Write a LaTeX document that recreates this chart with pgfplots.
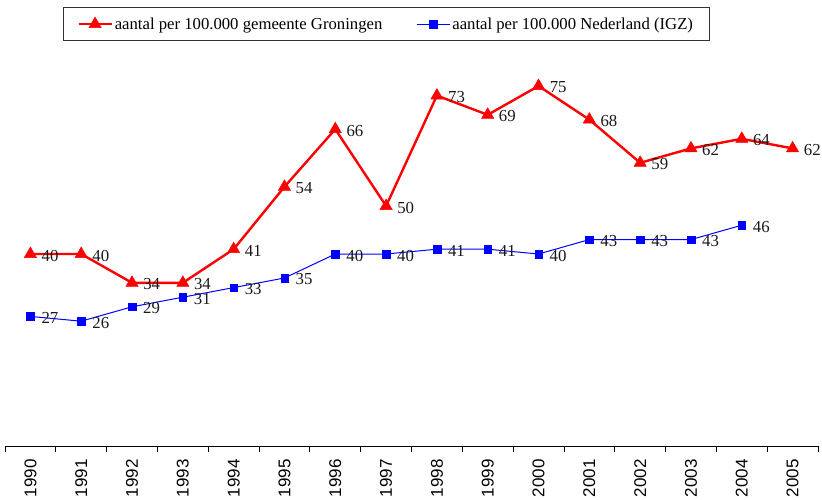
\documentclass[border=0pt]{standalone}
\usepackage{fontspec}
\setmainfont{Liberation Serif}
\newfontfamily\arial{Liberation Sans}
\usepackage{pgfplots}
\pgfplotsset{compat=1.18}
\begin{document}
\begin{tikzpicture}
\begin{axis}[
  scale only axis, width=813pt, height=432pt,
  xmin=-0.5, xmax=15.5, ymin=0, ymax=90,
  axis x line*=bottom, axis y line=none,
  clip=false,
  /pgf/number format/assume math mode=true,
  xtick={0,...,15},
  xticklabels={1990,1991,1992,1993,1994,1995,1996,1997,1998,1999,2000,2001,2002,2003,2004,2005},
  major tick length=0pt,
  xticklabel style={yshift=-13pt, rotate=90, anchor=east, font=\arial\fontsize{17}{17}\selectfont, inner sep=0pt},
  extra x ticks={-0.5,0.5,...,15.5},
  extra x tick labels={},
  extra x tick style={major tick length=6pt, tick align=outside, tick style={black, line width=0.8pt}},
  x axis line style={black, line width=0.8pt},
  nodes near coords,
  every node near coord/.append style={anchor=west, xshift=10pt, yshift=-1.5pt, font=\fontsize{16.8}{16.8}\selectfont, text=black!90, inner sep=1pt},
  legend columns=2,
  legend style={at={(0.0713,1.016)}, anchor=north west, draw=black!80, line width=0.8pt,
    font=\fontsize{16.7}{18}\selectfont, /tikz/every even column/.append style={column sep=32pt},
    inner xsep=14pt, inner ysep=8pt, nodes={inner sep=2pt, xshift=2pt}},
  legend image code/.code={\draw[mark repeat=2, mark phase=2] plot coordinates {(0pt,0pt) (16.5pt,0pt) (33pt,0pt)};},
]
\addplot[red, line width=2.4pt, mark=triangle*, mark size=7pt, mark options={line width=0.5pt}] coordinates {
(0,40) (1,40) (2,34) (3,34) (4,41) (5,54) (6,66) (7,50) (8,73) (9,69) (10,75) (11,68) (12,59) (13,62) (14,64) (15,62)};
\addlegendentry{aantal per 100.000 gemeente Groningen}
\addplot[blue, line width=1pt, mark=square*, mark size=3.8pt, mark options={line width=0.3pt}] coordinates {
(0,27) (1,26) (2,29) (3,31) (4,33) (5,35) (6,40) (7,40) (8,41) (9,41) (10,40) (11,43) (12,43) (13,43) (14,46)};
\addlegendentry{aantal per 100.000 Nederland (IGZ)}
\end{axis}
\pgfresetboundingbox
\useasboundingbox (-5pt,-53pt) rectangle (817pt,446pt);
\end{tikzpicture}
\end{document}
